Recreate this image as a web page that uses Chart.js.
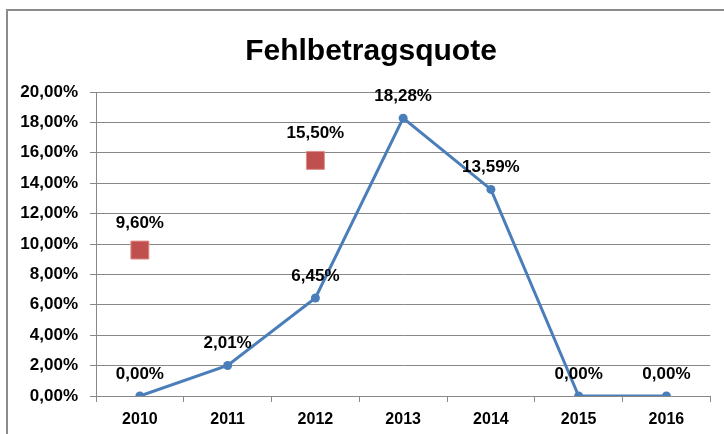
<!DOCTYPE html>
<html>
<head>
<meta charset="utf-8">
<script src="https://cdn.jsdelivr.net/npm/chart.js@4.4.1/dist/chart.umd.min.js"></script>
<style>
  html, body { margin: 0; padding: 0; background: #fff; overflow: hidden; }
  #wrap { position: relative; width: 724px; height: 434px; }
  #frame {
    position: absolute; left: 6px; top: 9px; width: 800px; height: 600px;
    border-left: 2px solid #8c8c8c; border-top: 2px solid #8c8c8c;
  }
  canvas { position: absolute; left: 0; top: 0; }
</style>
</head>
<body>
<div id="wrap">
  <div id="frame"></div>
  <canvas id="chart" width="724" height="434"></canvas>
</div>
<script>
const years = ["2010", "2011", "2012", "2013", "2014", "2015", "2016"];
const quoteValues = [0, 2.01, 6.45, 18.28, 13.59, 0, 0];
const markerValues = [9.6, null, 15.5, null, null, null, null];
const chartTitle = "Fehlbetragsquote";

const FONT = "'Liberation Sans', Arial, sans-serif";
const GRID = "#888888";

function fmtPct(v) {
  return v.toFixed(2).replace(".", ",") + "%";
}

// title + value labels, drawn by hand since there's no datalabels plugin
const labelPlugin = {
  id: "labels",
  afterDraw(chart) {
    const ctx = chart.ctx;
    ctx.save();
    ctx.fillStyle = "#000";
    ctx.textAlign = "center";
    ctx.textBaseline = "alphabetic";
    ctx.font = "bold 30px " + FONT;
    ctx.fillText(chartTitle, 371, 60);

    ctx.font = "bold 17px " + FONT;
    ctx.textBaseline = "middle";
    chart.data.datasets.forEach((ds, i) => {
      const meta = chart.getDatasetMeta(i);
      const off = ds.labelOffset;
      meta.data.forEach((pt, j) => {
        const v = ds.data[j];
        if (v === null || v === undefined) return;
        ctx.fillText(fmtPct(v), pt.x, pt.y - off);
      });
    });
    ctx.restore();
  }
};

new Chart(document.getElementById("chart"), {
  type: "line",
  data: {
    labels: years,
    datasets: [
      {
        label: "Fehlbetragsquote",
        data: quoteValues,
        borderColor: "#4a7ebb",
        backgroundColor: "#4a7ebb",
        borderWidth: 3,
        pointRadius: 4.5,
        pointBorderWidth: 0,
        tension: 0,
        labelOffset: 22,
      },
      {
        label: "Plan",
        data: markerValues,
        showLine: false,
        pointStyle: "rect",
        pointRadius: 12.7,
        backgroundColor: "#c0504d",
        borderColor: "#dc8f8c",
        pointBorderWidth: 1,
        labelOffset: 27,
      },
    ],
  },
  options: {
    responsive: false,
    animation: false,
    layout: {
      padding: { top: 92, right: 11, left: 0, bottom: 0 },
    },
    plugins: {
      legend: { display: false },
      tooltip: { enabled: false },
      title: { display: false },
    },
    scales: {
      x: {
        offset: true,
        grid: {
          offset: true,
          drawOnChartArea: false,
          drawTicks: true,
          tickLength: 6,
          color: GRID,
        },
        border: { display: true, color: GRID, width: 1 },
        ticks: {
          color: "#000",
          padding: 8,
          maxRotation: 0,
          font: { family: FONT, size: 16, weight: "bold" },
        },
        afterFit(s) {
          s.height = 38;
          s.paddingLeft = 0;
          s.paddingRight = 0;
        },
      },
      y: {
        min: 0,
        max: 20,
        ticks: {
          stepSize: 2,
          color: "#000",
          padding: 12,
          font: { family: FONT, size: 17, weight: "bold" },
          callback: (v) => fmtPct(v),
        },
        grid: {
          color: GRID,
          lineWidth: 1,
          tickLength: 6,
        },
        border: { display: true, color: GRID, width: 1 },
        afterFit(s) {
          s.width = 96;
          s.paddingTop = 0;
          s.paddingBottom = 0;
        },
      },
    },
  },
  plugins: [labelPlugin],
});
</script>
</body>
</html>
